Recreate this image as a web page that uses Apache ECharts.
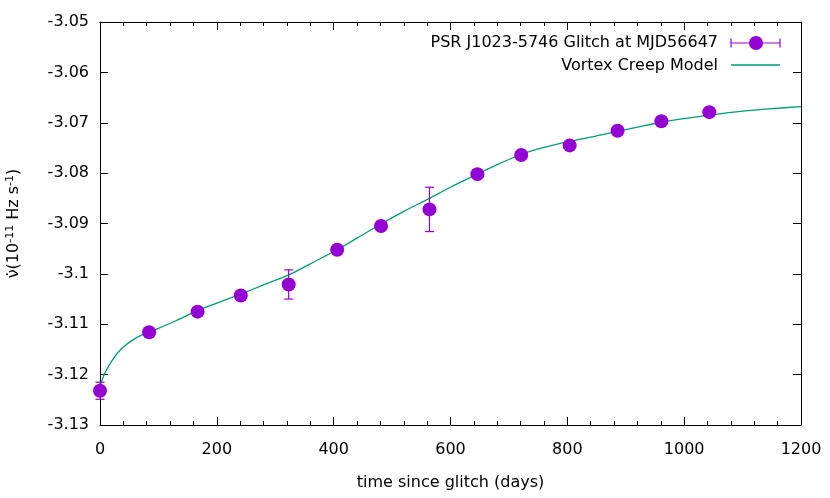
<!DOCTYPE html>
<html>
<head>
<meta charset="utf-8">
<script src="https://cdn.jsdelivr.net/npm/echarts@6/dist/echarts.min.js"></script>
<style>html,body{margin:0;padding:0;background:#fff;}#c{width:830px;height:498px;}</style>
</head>
<body>
<div id="c"></div>
<script>
// Observed data (days since glitch, nu-dot in 1e-11 Hz/s, error)
var obsT = [0, 84, 167, 241, 323, 406, 481, 564, 646, 721, 804, 886, 961, 1043];
var obsV = [-3.1232, -3.1116, -3.1075, -3.1043, -3.1021, -3.0952, -3.0905, -3.0872, -3.0802, -3.0764, -3.0745, -3.0716, -3.0697, -3.0679];
var obsErr = [0.0017, 0.0006, 0.0006, 0.0006, 0.0029, 0.0008, 0.0008, 0.0044, 0.0006, 0.0006, 0.0006, 0.0006, 0.0006, 0.0006];
// Vortex creep model curve
var modelT = [0, 5, 10, 20, 30, 40, 55, 70, 85, 100, 130, 167, 200, 241, 280, 323, 360, 406, 440, 481, 520, 564, 600, 646, 680, 721, 760, 804, 850, 886, 930, 961, 1000, 1043, 1100, 1150, 1200];
var modelV = [-3.1224, -3.1206, -3.1193, -3.1173, -3.1157, -3.1145, -3.1132, -3.1122, -3.1115, -3.1108, -3.1093, -3.1073, -3.1058, -3.1040, -3.1022, -3.1002, -3.0980, -3.0952, -3.0929, -3.0901, -3.0876, -3.0850, -3.0828, -3.0802, -3.0783, -3.0763, -3.0749, -3.0737, -3.0726, -3.0717, -3.0706, -3.0699, -3.0692, -3.0685, -3.0677, -3.0672, -3.0668];
var xTicks = [0, 200, 400, 600, 800, 1000, 1200];
var legendNames = ['PSR J1023-5746 Glitch at MJD56647', 'Vortex Creep Model'];

var PURPLE = '#9400d3', GREEN = '#009e73';
var FONT = 'DejaVu Sans';
var FS = 16;
var chart = echarts.init(document.getElementById('c'), null, {renderer: 'canvas'});

var obsData = obsT.map(function (t, i) { return [t, obsV[i]]; });
var errData = obsT.map(function (t, i) { return [t, obsV[i] - obsErr[i], obsV[i] + obsErr[i]]; });
var modelData = modelT.map(function (t, i) { return [t, modelV[i]]; });

var tickFmt = function (v) { return parseFloat((+v).toFixed(2)).toString(); };

function xAxisDef(pos) {
  return {
    type: 'value', min: 0, max: 1200, interval: 200, position: pos, gridIndex: 0, show: true,
    axisLine: {show: true, onZero: false, lineStyle: {color: '#000', width: 1}},
    axisTick: {show: true, inside: true, length: 8, lineStyle: {color: '#000', width: 1}},
    minorTick: {show: true, splitNumber: 5, length: 4, lineStyle: {color: '#000', width: 1}},
    splitLine: {show: false}, minorSplitLine: {show: false}
  };
}
function yAxisDef(pos) {
  return {
    type: 'value', min: -3.13, max: -3.05, interval: 0.01, position: pos, gridIndex: 0, show: true,
    axisLine: {show: true, onZero: false, lineStyle: {color: '#000', width: 1}},
    axisTick: {show: true, inside: true, length: 8, lineStyle: {color: '#000', width: 1}},
    splitLine: {show: false}
  };
}

var xBottom = xAxisDef('bottom');
xBottom.axisLabel = {show: true, margin: 17, color: '#000', fontFamily: FONT, fontSize: FS,
  formatter: function (v) { return xTicks.indexOf(v) >= 0 ? String(v) : ''; }};
xBottom.name = 'time since glitch (days)';
xBottom.nameLocation = 'middle';
xBottom.nameGap = 50;
xBottom.nameTextStyle = {color: '#000', fontFamily: FONT, fontSize: FS};
var xTop = xAxisDef('top');
xTop.axisLabel = {show: false};

var yLeft = yAxisDef('left');
yLeft.axisLabel = {show: true, margin: 11, color: '#000', fontFamily: FONT, fontSize: FS, formatter: tickFmt};
yLeft.name = '{n|ν̇}{t|(10}{s|-11}{t| Hz s}{s|-1}{t|)}';
yLeft.nameLocation = 'middle';
yLeft.nameGap = 77;
yLeft.nameRotate = 90;
yLeft.nameTextStyle = {color: '#000', fontFamily: FONT, fontSize: FS,
  rich: {
    n: {fontFamily: FONT, fontSize: FS, color: '#000'},
    t: {fontFamily: FONT, fontSize: FS, color: '#000'},
    s: {fontFamily: FONT, fontSize: 11, color: '#000', verticalAlign: 'top', padding: [0, 0, 7, 0]}
  }};
var yRight = yAxisDef('right');
yRight.axisLabel = {show: false};

chart.setOption({
  animation: false,
  backgroundColor: '#fff',
  grid: {left: 100, right: 29, top: 22, bottom: 73, containLabel: false, outerBoundsMode: 'none'},
  xAxis: [xBottom, xTop],
  yAxis: [yLeft, yRight],
  series: [
    {
      name: legendNames[1], type: 'line', data: modelData, smooth: 0.3,
      showSymbol: false, symbol: 'none', z: 3,
      lineStyle: {color: GREEN, width: 1.3}
    },
    {
      name: 'errbars', type: 'custom', data: errData, z: 4,
      renderItem: function (params, api) {
        var x = api.value(0);
        var lo = api.coord([x, api.value(1)]);
        var hi = api.coord([x, api.value(2)]);
        var c = 4.5;
        var st = {stroke: PURPLE, lineWidth: 1.2, fill: null};
        return {type: 'group', children: [
          {type: 'line', shape: {x1: lo[0], y1: lo[1], x2: hi[0], y2: hi[1]}, style: st},
          {type: 'line', shape: {x1: lo[0] - c, y1: lo[1], x2: lo[0] + c, y2: lo[1]}, style: st},
          {type: 'line', shape: {x1: hi[0] - c, y1: hi[1], x2: hi[0] + c, y2: hi[1]}, style: st}
        ]};
      }
    },
    {
      name: legendNames[0], type: 'scatter', data: obsData, symbol: 'circle', symbolSize: 14, z: 5,
      itemStyle: {color: PURPLE, opacity: 1}
    },
    {
      name: 'frame', type: 'line', xAxisIndex: 1, yAxisIndex: 1, data: [], silent: true
    }
  ],
  graphic: [
    {type: 'text', x: 718, y: 43, style: {text: legendNames[0], fill: '#000', font: FS + 'px "DejaVu Sans"', textAlign: 'right', textVerticalAlign: 'middle'}},
    {type: 'text', x: 718, y: 66, style: {text: legendNames[1], fill: '#000', font: FS + 'px "DejaVu Sans"', textAlign: 'right', textVerticalAlign: 'middle'}},
    {type: 'line', shape: {x1: 731, y1: 43, x2: 780, y2: 43}, style: {stroke: PURPLE, lineWidth: 1.2}},
    {type: 'line', shape: {x1: 731, y1: 38.5, x2: 731, y2: 47.5}, style: {stroke: PURPLE, lineWidth: 1.2}},
    {type: 'line', shape: {x1: 780, y1: 38.5, x2: 780, y2: 47.5}, style: {stroke: PURPLE, lineWidth: 1.2}},
    {type: 'circle', shape: {cx: 756, cy: 43, r: 7}, style: {fill: PURPLE}},
    {type: 'line', shape: {x1: 731, y1: 65, x2: 780, y2: 65}, style: {stroke: GREEN, lineWidth: 1.3}}
  ]
});
</script>
</body>
</html>
